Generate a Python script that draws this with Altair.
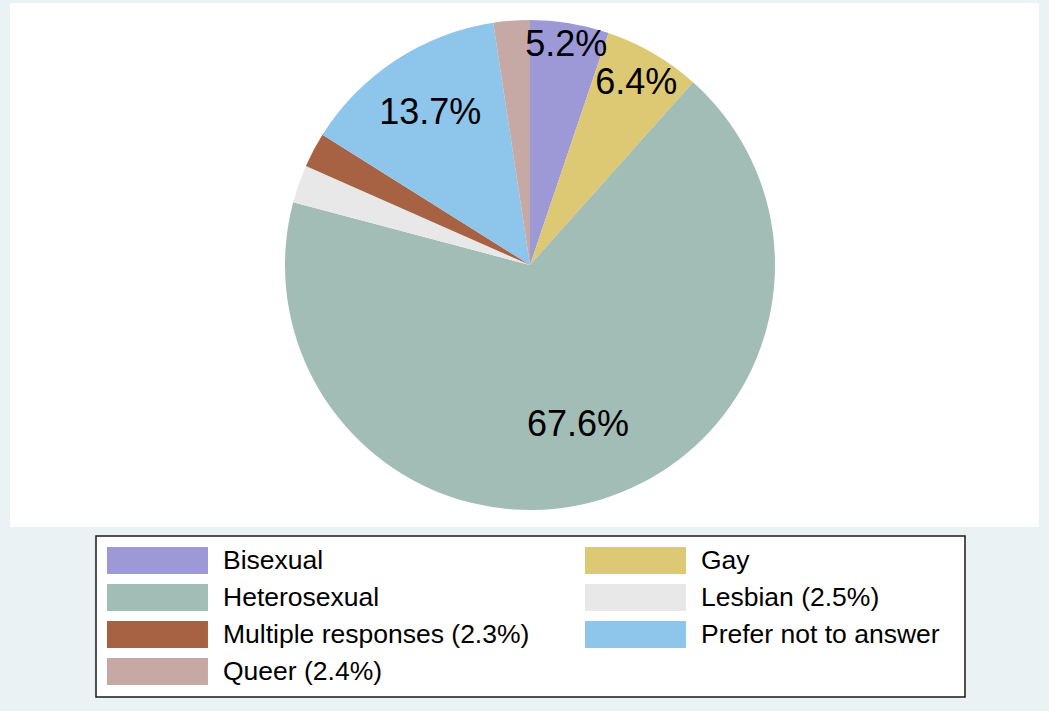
import math
import altair as alt
import pandas as pd

FONT = "Liberation Sans"

categories = ["Bisexual", "Gay", "Heterosexual", "Lesbian (2.5%)",
              "Multiple responses (2.3%)", "Prefer not to answer", "Queer (2.4%)"]
shares = [5.2, 6.4, 67.6, 2.5, 2.3, 13.7, 2.4]
pie_labels = ["5.2%", "6.4%", "67.6%", "", "", "13.7%", ""]
colors = ["#9D98D6", "#DDC873", "#A2BDB6", "#E8E8E8", "#A66242", "#8EC5EB", "#C6A9A5"]

df = pd.DataFrame({
    "cat": categories,
    "share": shares,
    "label": pie_labels,
    "idx": list(range(len(categories))),
})
total = float(sum(shares))

one = pd.DataFrame({"k": [0]})

plot_bg = alt.Chart(one).mark_rect(color="white").encode(
    x=alt.value(10), x2=alt.value(1039), y=alt.value(3), y2=alt.value(527)
)

legend_box = alt.Chart(one).mark_rect(fill="white", stroke="#1a1a1a", strokeWidth=1.5).encode(
    x=alt.value(96), x2=alt.value(965), y=alt.value(536), y2=alt.value(697)
)

color_scale = alt.Scale(domain=categories, range=colors)
theta_scale = alt.Scale(domain=[0, total], range=[0, 2 * math.pi])

base = alt.Chart(df).transform_window(
    cum="sum(share)", sort=[alt.SortField("idx")], frame=[None, 0]
).transform_calculate(
    start="datum.cum - datum.share",
    mid="datum.cum - datum.share / 2",
)

arcs = base.mark_arc(outerRadius=245).encode(
    theta=alt.Theta("start:Q", scale=theta_scale),
    theta2="cum:Q",
    color=alt.Color(
        "cat:N",
        scale=color_scale,
        legend=alt.Legend(
            orient="none", legendX=107, legendY=547, columns=2, direction="horizontal",
            title=None,
            symbolType="M-1,-1h7.48v2h-7.48Z", symbolSize=729,
            symbolStrokeWidth=0, symbolOpacity=1,
            labelFont=FONT, labelFontSize=26.5, labelColor="black",
            labelOffset=89, rowPadding=10, columnPadding=55, padding=0,
            labelLimit=600,
        ),
    ),
    x=alt.value(530),
    y=alt.value(265),
)

texts = base.mark_text(
    font=FONT, fontSize=36, color="black", align="center", baseline="middle"
).transform_calculate(
    lr="datum.cat == 'Bisexual' ? 223 : datum.cat == 'Gay' ? 211 : datum.cat == 'Heterosexual' ? 167 : 182"
).encode(
    theta=alt.Theta("mid:Q", scale=theta_scale),
    radius=alt.Radius("lr:Q", scale=None),
    text="label:N",
    x=alt.value(530),
    y=alt.value(265),
)

chart = alt.layer(plot_bg, legend_box, arcs, texts).properties(
    width=1049, height=711,
    autosize=alt.AutoSizeParams(type="none"),
    padding=0,
    background="#EAF2F3",
).configure_view(stroke=None)

chart.save("out.html", embed_options={"renderer": "svg", "actions": False})
